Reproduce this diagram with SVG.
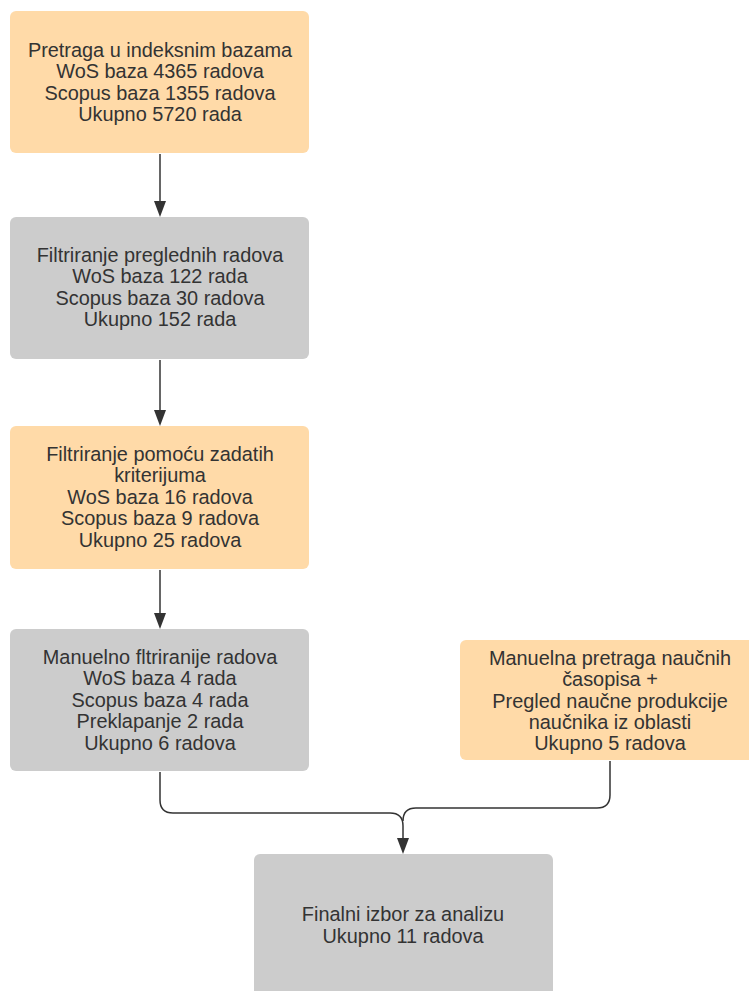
<svg xmlns="http://www.w3.org/2000/svg" width="749" height="991" viewBox="0 0 749 991">
<defs>
<style>
.o{fill:#FFDAA8;}
.g{fill:#CCCCCC;}
text{font-family:"Liberation Sans",Arial,sans-serif;font-size:19.9px;fill:#333333;text-anchor:middle;}
.c{fill:none;stroke:#333333;stroke-width:1.5;}
</style>
</defs>
<rect width="749" height="991" fill="#ffffff"/>
<g id="connectors">
<path class="c" d="M160,154 V201"/>
<path d="M154,201 L166,201 L160,217 Z" fill="#333333"/>
<path class="c" d="M160,360 V410"/>
<path d="M154,410 L166,410 L160,426 Z" fill="#333333"/>
<path class="c" d="M160,570 V613"/>
<path d="M154,613 L166,613 L160,629 Z" fill="#333333"/>
<path class="c" d="M160,772 V800 Q160,813 173,813 H390 Q403,813 403,826 V838"/>
<path class="c" d="M610,761 V795 Q610,808 597,808 H416 Q403,808 403,821"/>
<path d="M397,838 L409,838 L403,854 Z" fill="#333333"/>
</g>
<g id="n1">
<rect class="o" x="10" y="11" width="299" height="142" rx="6"/>
<text x="160" y="57">Pretraga u indeksnim bazama</text>
<text x="160" y="78">WoS baza 4365 radova</text>
<text x="160" y="100">Scopus baza 1355 radova</text>
<text x="160" y="121">Ukupno 5720 rada</text>
</g>
<g id="n2">
<rect class="g" x="10" y="217" width="299" height="142" rx="6"/>
<text x="160" y="262">Filtriranje preglednih radova</text>
<text x="160" y="283">WoS baza 122 rada</text>
<text x="160" y="305">Scopus baza 30 radova</text>
<text x="160" y="326">Ukupno 152 rada</text>
</g>
<g id="n3">
<rect class="o" x="10" y="426" width="299" height="143" rx="6"/>
<text x="160" y="461">Filtriranje pomoću zadatih</text>
<text x="160" y="482">kriterijuma</text>
<text x="160" y="504">WoS baza 16 radova</text>
<text x="160" y="525">Scopus baza 9 radova</text>
<text x="160" y="547">Ukupno 25 radova</text>
</g>
<g id="n4">
<rect class="g" x="10" y="629" width="299" height="142" rx="6"/>
<text x="160" y="664">Manuelno fltriranije radova</text>
<text x="160" y="685">WoS baza 4 rada</text>
<text x="160" y="707">Scopus baza 4 rada</text>
<text x="160" y="728">Preklapanje 2 rada</text>
<text x="160" y="750">Ukupno 6 radova</text>
</g>
<g id="n5">
<rect class="o" x="460" y="640" width="300" height="120" rx="6"/>
<text x="610" y="665">Manuelna pretraga naučnih</text>
<text x="610" y="686">časopisa +</text>
<text x="610" y="708">Pregled naučne produkcije</text>
<text x="610" y="729">naučnika iz oblasti</text>
<text x="610" y="750">Ukupno 5 radova</text>
</g>
<g id="n6">
<rect class="g" x="254" y="854" width="299" height="150" rx="6"/>
<text x="403" y="921">Finalni izbor za analizu</text>
<text x="403" y="943">Ukupno 11 radova</text>
</g>
</svg>
